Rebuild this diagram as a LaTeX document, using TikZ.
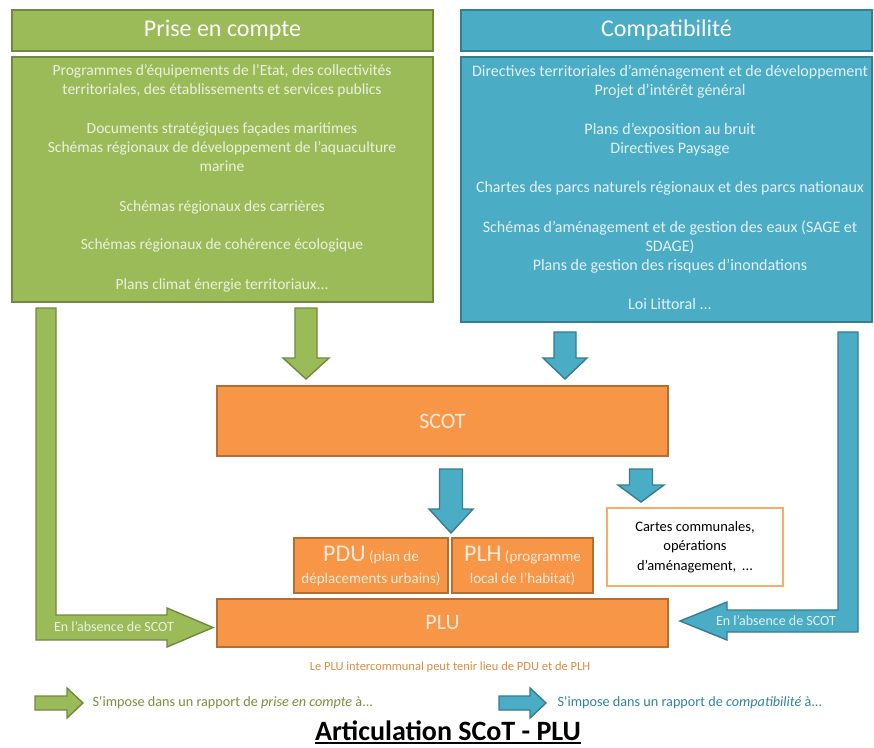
\documentclass[tikz,border=0pt]{standalone}
\usepackage{fontspec}
\setmainfont{Carlito}
\definecolor{gfill}{HTML}{9BBB59}
\definecolor{gline}{HTML}{71893F}
\definecolor{gtext}{HTML}{EBF1DE}
\definecolor{bfill}{HTML}{4BACC6}
\definecolor{bline}{HTML}{357D91}
\definecolor{btext}{HTML}{E2F2F6}
\definecolor{ofill}{HTML}{F79646}
\definecolor{oline}{HTML}{B66D31}
\definecolor{otext}{HTML}{FDEADA}
\definecolor{onote}{HTML}{DC8C45}
\definecolor{glegend}{HTML}{77933C}
\definecolor{blegend}{HTML}{31859C}
\newcommand\dnarrow[7]{\draw[#1] ({#2-#6},{#3}) -- ({#2+#6},{#3}) -- ({#2+#6},{#4}) -- ({#2+#7},{#4}) -- ({#2},{#5}) -- ({#2-#7},{#4}) -- ({#2-#6},{#4}) -- cycle;}
\begin{document}
\begin{tikzpicture}[x=1pt,y=-1pt,
  gbox/.style={draw=gline,fill=gfill,line width=1.6pt,inner sep=0pt},
  bbox/.style={draw=bline,fill=bfill,line width=1.6pt,inner sep=0pt},
  obox/.style={draw=oline,fill=ofill,line width=1.6pt,inner sep=0pt,text=otext},
  wbox/.style={draw=ofill!80!white,fill=white,line width=1.6pt,inner sep=0pt},
  garr/.style={draw=gline,fill=gfill,line width=1.4pt,line join=miter},
  barr/.style={draw=bline,fill=bfill,line width=1.4pt,line join=miter},
  headtxt/.style={text=white,font=\fontsize{24}{28}\selectfont},
  gtxt/.style={text=gtext,align=center,font=\fontsize{15.5}{19}\selectfont},
  btxt/.style={text=btext,align=center,font=\fontsize{16}{19}\selectfont},
  bigtxt/.style={font=\fontsize{22}{26}\selectfont},
  lbl/.style={font=\fontsize{14}{17}\selectfont},
  legtxt/.style={anchor=west,font=\fontsize{14.2}{16}\selectfont}
]
\useasboundingbox[fill=white] (0,0) rectangle (874,747);

% top boxes
\node[gbox,minimum width=421pt,minimum height=41pt] (gh) at (222.5,30.5) {};
\node[headtxt] (ght) at (gh) {Prise en compte};
\node[gbox,minimum width=421pt,minimum height=245pt] (gb) at (222.5,179.5) {};
\node[gtxt] (g1) at (222,81) {Programmes d’équipements de l’Etat, des collectivités\\territoriales, des établissements et services publics};
\node[gtxt] (g2) at (222,147) {Documents stratégiques façades maritimes\\Schémas régionaux de développement de l’aquaculture\\marine};
\node[gtxt] (g3) at (222,207) {Schémas régionaux des carrières};
\node[gtxt] (g4) at (222,245) {Schémas régionaux de cohérence écologique};
\node[gtxt] (g5) at (222,285) {Plans climat énergie territoriaux...};

\node[bbox,minimum width=411pt,minimum height=41pt] (bh) at (666.5,30.5) {};
\node[headtxt] (bht) at (bh) {Compatibilité};
\node[bbox,minimum width=411pt,minimum height=265pt] (bb) at (666.5,189.5) {};
\node[btxt] (b1) at (670,82) {Directives territoriales d’aménagement et de développement\\Projet d’intérêt général};
\node[btxt] (b2) at (670,139.5) {Plans d’exposition au bruit\\Directives Paysage};
\node[btxt] (b3) at (670,188) {Chartes des parcs naturels régionaux et des parcs nationaux};
\node[btxt] (b4) at (670,247) {Schémas d’aménagement et de gestion des eaux (SAGE et\\SDAGE)\\Plans de gestion des risques d’inondations};
\node[btxt] (b5) at (670,304) {Loi Littoral ...};

% orange boxes
\node[obox,minimum width=451pt,minimum height=70pt,bigtxt] (scot) at (442.5,421) {SCOT};
\node[obox,minimum width=154pt,minimum height=55pt,align=center,font=\fontsize{15}{22}\selectfont] (pdu) at (371,565.5)
  {{\fontsize{24}{24}\selectfont PDU} (plan de\\déplacements urbains)};
\node[obox,minimum width=141pt,minimum height=55pt,align=center,font=\fontsize{15}{22}\selectfont] (plh) at (522.5,565.5)
  {{\fontsize{24}{24}\selectfont PLH} (programme\\local de l’habitat)};
\node[obox,minimum width=451pt,minimum height=48pt,bigtxt] (plu) at (442.5,623) {PLU};
\node[wbox,minimum width=176pt,minimum height=78pt,align=center,font=\fontsize{14.5}{19.5}\selectfont] (cartes) at (695,547)
  {Cartes communales,\\opérations\\d’aménagement, \,...};

% block arrows
\dnarrow{garr}{306}{308}{358}{379}{11}{23}
\dnarrow{barr}{565}{332}{358}{379}{11}{22}
\dnarrow{barr}{451}{469}{509}{533}{11.5}{22}
\dnarrow{barr}{641}{469}{485}{502}{11.5}{23}

% L arrows
\draw[garr] (36,308) -- (56,308) -- (56,615) -- (167,615) -- (167,608) -- (213,627.5) -- (167,647) -- (167,640) -- (36,640) -- cycle;
\node[lbl,text=gtext] (gabs) at (114,627) {En l’absence de SCOT};
\draw[barr] (838,332) -- (858,332) -- (858,632) -- (727,632) -- (727,640) -- (680,621) -- (727,602) -- (727,610) -- (838,610) -- cycle;
\node[lbl,text=btext] (babs) at (776,621) {En l’absence de SCOT};

% note
\node[font=\fontsize{12.5}{15}\selectfont,text=onote] (note) at (450,667) {Le PLU intercommunal peut tenir lieu de PDU et de PLH};

% legend
\draw[garr] (35,696) -- (67,696) -- (67,688) -- (83,703) -- (67,718) -- (67,710) -- (35,710) -- cycle;
\node[legtxt,text=glegend] (leg1) at (89,703) {S’impose dans un rapport de \textit{prise en compte} à...};
\draw[barr] (499,696) -- (530,696) -- (530,688) -- (546,703) -- (530,718) -- (530,710) -- (499,710) -- cycle;
\node[legtxt,text=blegend] (leg2) at (554,703) {S’impose dans un rapport de \textit{compatibilité} à...};

% title
\node[font=\bfseries\fontsize{28}{30}\selectfont,anchor=base,inner sep=0pt] (title) at (448,740) {Articulation SCoT - PLU};
\draw[line width=1.6pt] ([yshift=-3pt]title.base west) -- ([yshift=-3pt]title.base east);
\end{tikzpicture}
\end{document}
